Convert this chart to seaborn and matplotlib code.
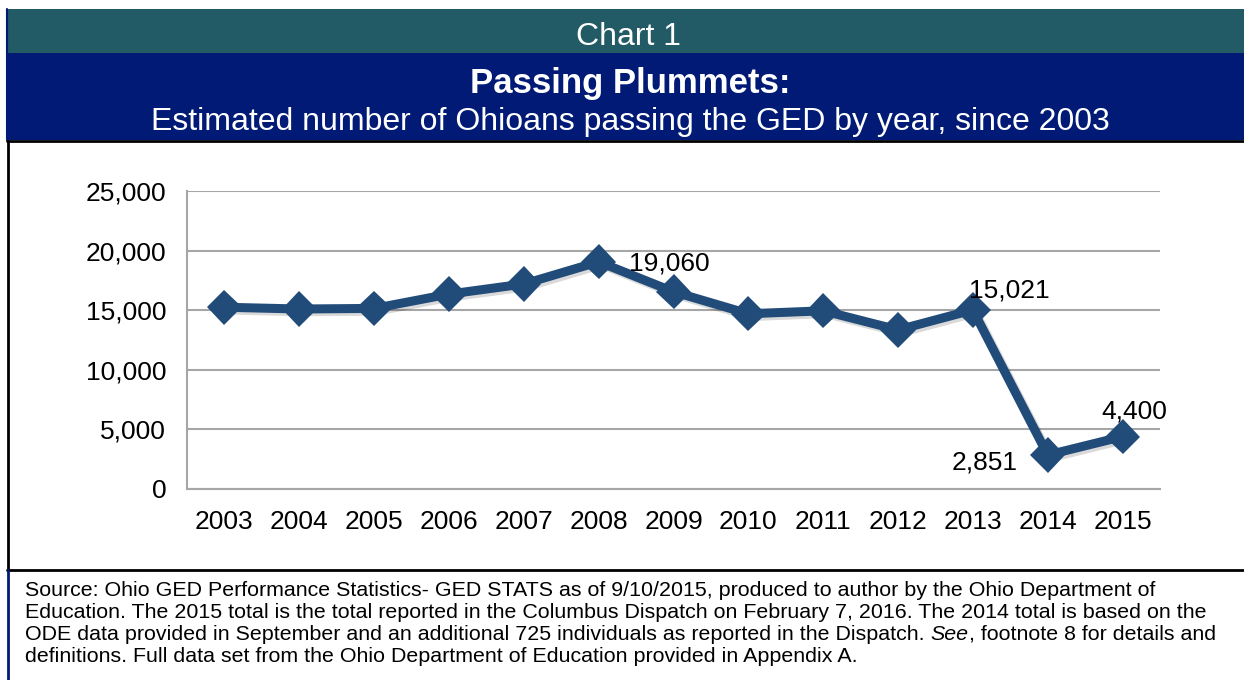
import numpy as np
import pandas as pd
import matplotlib
matplotlib.use('Agg')
import matplotlib.pyplot as plt
import matplotlib.patheffects as pe
from matplotlib.patches import Rectangle
from matplotlib.lines import Line2D
from matplotlib.ticker import FuncFormatter, FixedLocator
import seaborn as sns

# Datos
years = ['2003', '2004', '2005', '2006', '2007', '2008', '2009',
         '2010', '2011', '2012', '2013', '2014', '2015']
passing = [15250, 15100, 15150, 16350, 17200, 19060, 16550,
           14700, 14950, 13350, 15021, 2851, 4400]
labeled = {'2008': '19,060', '2013': '15,021', '2014': '2,851', '2015': '4,400'}

source_lines = [
    "Source: Ohio GED Performance Statistics- GED STATS as of 9/10/2015, produced to author by the Ohio Department of",
    "Education. The 2015 total is the total reported in the Columbus Dispatch on February 7, 2016. The 2014 total is based on the",
    "ODE data provided in September and an additional 725 individuals as reported in the Dispatch. ",
    "definitions. Full data set from the Ohio Department of Education provided in Appendix A.",
]

sns.set_style('white')
plt.rcParams['font.family'] = ['Liberation Sans', 'DejaVu Sans']
plt.rcParams['text.color'] = 'black'
plt.rcParams['xtick.color'] = 'black'
plt.rcParams['ytick.color'] = 'black'

W, H = 1244, 680
fig = plt.figure(figsize=(W / 100, H / 100), dpi=100)

def fy(py):
    return 1 - py / H

def fx(px):
    return px / W

# Bandas del encabezado
fig.patches.append(Rectangle((fx(7), fy(53)), 1, fy(9) - fy(53), transform=fig.transFigure,
                             facecolor='#225A66', edgecolor='none'))
fig.patches.append(Rectangle((fx(7), fy(140)), 1, fy(53) - fy(140), transform=fig.transFigure,
                             facecolor='#001A75', edgecolor='none'))
fig.lines.append(Line2D([fx(7), fx(7)], [fy(9), fy(140)], transform=fig.transFigure,
                        color='#001A75', lw=1.5))
# Marco negro de la zona del grafico
fig.lines.append(Line2D([fx(7), 1], [fy(141), fy(141)], transform=fig.transFigure, color='black', lw=2))
fig.lines.append(Line2D([fx(7), 1], [fy(570), fy(570)], transform=fig.transFigure, color='black', lw=2))
fig.lines.append(Line2D([fx(8), fx(8)], [fy(141), fy(570)], transform=fig.transFigure, color='black', lw=2))
fig.lines.append(Line2D([fx(8), fx(8)], [fy(570), 0], transform=fig.transFigure, color='#001A75', lw=2))

fig.text(fx(629), fy(37), 'Chart 1', ha='center', va='center', color='white', fontsize=23)
fig.text(fx(630), fy(84), 'Passing Plummets:', ha='center', va='center', color='white',
         fontsize=25, fontweight='bold')
fig.text(fx(630), fy(122), 'Estimated number of Ohioans passing the GED by year, since 2003',
         ha='center', va='center', color='white', fontsize=23)

# Ejes
ax = fig.add_axes([fx(187), fy(489), fx(1160) - fx(187), fy(191) - fy(489)])
df = pd.DataFrame({'pos': np.arange(len(years)), 'year': years, 'passing': passing})
sns.lineplot(data=df, x='pos', y='passing', ax=ax, color='#214B78', lw=6.5,
             marker='D', markersize=18, markeredgewidth=0,
             path_effects=[pe.SimpleLineShadow(offset=(2, -2), alpha=0.15), pe.Normal()])

ax.set_xlim(-0.5, len(years) - 0.5)
ax.set_ylim(0, 25000)
ax.set_yticks(np.arange(0, 25001, 5000))
ax.yaxis.set_major_formatter(FuncFormatter(lambda v, p: f'{int(v):,}'))
ax.set_xticks(df['pos'])
ax.set_xticklabels(years)
ax.xaxis.set_minor_locator(FixedLocator(np.arange(-0.5, len(years), 1)))
ax.tick_params(axis='x', which='major', length=0, labelsize=19, pad=15)
ax.tick_params(axis='x', which='minor', length=7, width=1.5, color='#A6A6A6', direction='out')
ax.tick_params(axis='y', which='major', length=7, width=1.5, color='#A6A6A6', labelsize=19, pad=8)
ax.grid(axis='y', color='#A6A6A6', lw=1.5)
ax.set_axisbelow(True)
for s in ['top', 'right']:
    ax.spines[s].set_visible(False)
for s in ['left', 'bottom']:
    ax.spines[s].set_color('#A6A6A6')
    ax.spines[s].set_linewidth(1.5)
ax.set_xlabel('')
ax.set_ylabel('')

offsets = {'2008': (0.95, -180), '2013': (0.49, 1670), '2014': (-0.84, -590), '2015': (0.16, 2060)}
for yr, txt in labeled.items():
    i = years.index(yr)
    dx, dy = offsets[yr]
    ax.text(i + dx, passing[i] + dy, txt, ha='center', va='center', fontsize=19, color='black')

# Nota de fuente
fs = 15.4
for k, line in enumerate(source_lines):
    fig.text(fx(25), fy(590 + 22 * k), line, ha='left', va='center', fontsize=fs)

renderer = fig.canvas.get_renderer()
bb = fig.texts[-2].get_window_extent(renderer)
ts = fig.text(bb.x1 / W, fy(634), 'See', ha='left', va='center', fontsize=fs, style='italic')
bb2 = ts.get_window_extent(renderer)
fig.text(bb2.x1 / W, fy(634), ', footnote 8 for details and', ha='left', va='center', fontsize=fs)

fig.savefig('out.png', dpi=100)
